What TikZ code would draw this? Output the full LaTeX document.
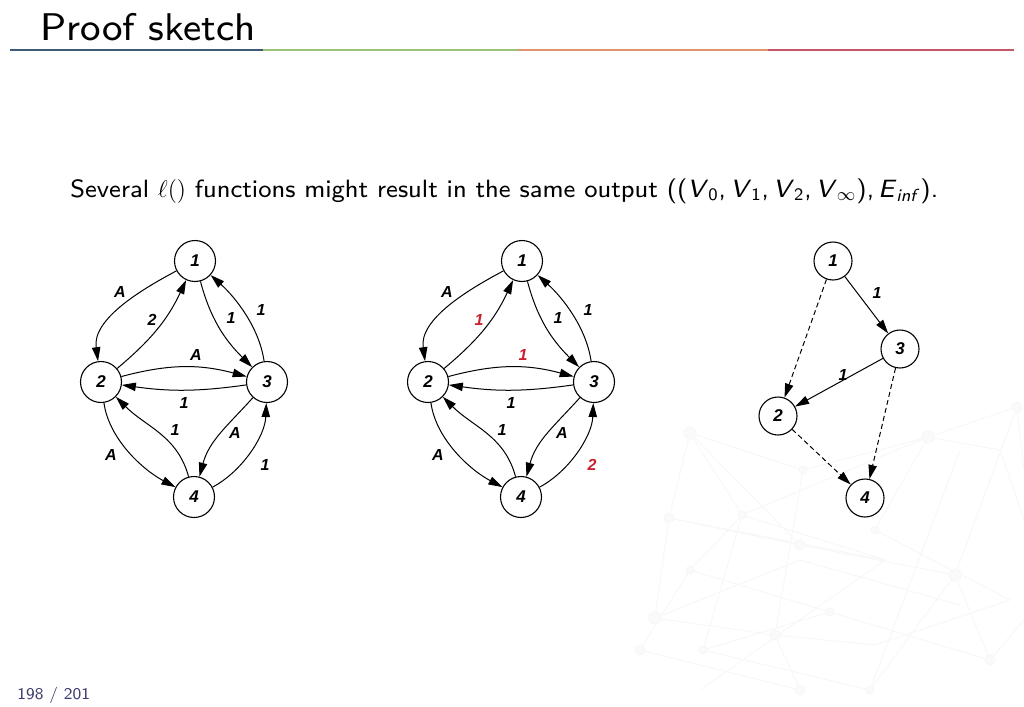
\documentclass[tikz,border=0pt]{standalone}
\usepackage{fontspec}
\setsansfont{lmsans8-regular.otf}[ItalicFont=lmsans8-oblique.otf]
\newfontfamily\figfont{Liberation Sans}
\usetikzlibrary{arrows.meta}

\definecolor{barblue}{HTML}{3B5B78}
\definecolor{bargreen}{HTML}{9CC27A}
\definecolor{barorange}{HTML}{E0956A}
\definecolor{barred}{HTML}{C4566A}
\definecolor{labred}{HTML}{C8202C}
\definecolor{pagenum}{HTML}{3C3C6E}

\tikzset{
  vertex/.style={circle, draw, line width=0.55pt, minimum size=20.5pt, inner sep=0pt,
                 font=\figfont\bfseries\itshape\fontsize{8.5}{9}\selectfont},
  small vertex/.style={vertex, minimum size=19pt},
  arc/.style={-{Triangle[length=7pt,width=4.2pt]}, line width=0.5pt},
  dashed arc/.style={arc, dash pattern=on 2.5pt off 1.6pt},
  weight/.style={inner sep=0pt, font=\figfont\bfseries\itshape\fontsize{8}{9}\selectfont},
  net/.style={gray!6, line width=0.5pt},
}

% one labelled graph: prefix, x of node 1, labels of 2->1, 2->3 and 4->3
\newcommand{\lmgraph}[5]{%
\begin{scope}[shift={(#2,261)}]
\node[vertex] (#1-1) at (0,0)     {1};
\node[vertex] (#1-2) at (-94,121) {2};
\node[vertex] (#1-3) at (72,121)  {3};
\node[vertex] (#1-4) at (-1,236)  {4};

\draw[arc] (#1-1) to[out=208,in=98,looseness=0.9]   (#1-2);
\draw[arc] (#1-2) to[out=40,in=245]                 (#1-1);
\draw[arc] (#1-1) to[out=285,in=135]                (#1-3);
\draw[arc] (#1-3) to[out=98,in=318,looseness=0.85]  (#1-1);
\draw[arc] (#1-2) to[out=15,in=165]                 (#1-3);
\draw[arc] (#1-3) to[out=188,in=352]                (#1-2);
\draw[arc] (#1-2) to[out=278,in=152,looseness=0.85] (#1-4);
\draw[arc] (#1-4) to[out=105,in=315]                (#1-2);
\draw[arc] (#1-3) to[out=228,in=75]                 (#1-4);
\draw[arc] (#1-4) to[out=28,in=268,looseness=0.85]  (#1-3);

\node[weight] (#1-w12) at (-75,31)  {A};
\node[weight] (#1-w21) at (-43,59)  {#3};
\node[weight] (#1-w13) at (36,57)   {1};
\node[weight] (#1-w31) at (66,49)   {1};
\node[weight] (#1-w23) at (1,94)    {#4};
\node[weight] (#1-w32) at (-11,142) {1};
\node[weight] (#1-w42) at (-20,169) {1};
\node[weight] (#1-w34) at (40,172)  {A};
\node[weight] (#1-w24) at (-84,194) {A};
\node[weight] (#1-w43) at (70,204)  {#5};
\end{scope}}

\begin{document}
\begin{tikzpicture}[x=0.5pt, y=-0.5pt]
\useasboundingbox (0,0) rectangle (1024,707);

% background network
\foreach \xa/\ya/\xb/\yb in {690/433/803/470, 690/433/669/518, 690/433/742/515, 803/470/928/437,
  928/437/1017/407, 928/437/875/530, 928/437/1000/450, 669/518/800/545, 742/515/885/560,
  800/545/955/575, 875/530/1010/600, 690/570/830/612, 690/570/742/515, 800/560/960/605,
  655/618/775/635, 775/635/875/645, 830/612/990/660, 640/650/800/690, 703/650/870/690,
  875/645/1010/600, 955/575/990/660, 885/560/700/690, 742/515/703/650, 960/450/870/690,
  669/518/655/618, 803/470/775/635, 1017/407/955/575, 1000/450/1024/520, 690/433/800/545,
  928/437/742/515, 669/518/885/560, 655/618/800/560, 703/650/830/612, 990/660/1024/620,
  640/650/690/570, 775/635/800/690, 870/690/955/575, 1017/407/1024/470}
  \draw[net] (\xa,\ya) -- (\xb,\yb);
\foreach \xa/\ya/\r in {690/433/6, 803/470/4, 928/437/6, 1017/407/5, 669/518/5, 742/515/4,
  800/545/5, 875/530/4, 690/570/4, 955/575/6, 655/618/6, 775/635/5, 830/612/4, 990/660/5,
  640/650/5, 703/650/4, 800/690/5, 870/690/4}
  \draw[net, fill=gray!4] (\xa,\ya) circle[radius=\r];

% title and bar
\node[anchor=base west, inner sep=0pt, font=\sffamily\fontsize{19.3}{22}\selectfont] (title) at (40,40) {Proof sketch};
\draw[barblue, line width=1pt]   (10,50)  -- (263,50);
\draw[bargreen, line width=1pt]  (263,50) -- (518,50);
\draw[barorange, line width=1pt] (518,50) -- (768,50);
\draw[barred, line width=1pt]    (768,50) -- (1014,50);

\node[anchor=base west, inner sep=0pt, font=\sffamily\fontsize{12.5}{15}\selectfont] (claim) at (70,197)
  {Several $\ell()$ functions might result in the same output ((\textit{V}\textsubscript{0},\,\textit{V}\textsubscript{1},\,\textit{V}\textsubscript{2},\,\textit{V}\textsubscript{$\infty$}),\,\textit{E}\textsubscript{\textit{inf}}).};

% the two labellings
\lmgraph{a}{195}{2}{A}{1}
\lmgraph{b}{522}{\textcolor{labred}{1}}{\textcolor{labred}{1}}{\textcolor{labred}{2}}

% the output
\node[small vertex] (c-1) at (833,261) {1};
\node[small vertex] (c-3) at (900,349) {3};
\node[small vertex] (c-2) at (778,416) {2};
\node[small vertex] (c-4) at (865,498) {4};
\draw[arc] (c-1) -- (c-3);
\draw[arc] (c-3) -- (c-2);
\draw[dashed arc] (c-1) -- (c-2);
\draw[dashed arc] (c-3) -- (c-4);
\draw[dashed arc] (c-2) -- (c-4);
\node[weight] (c-w13) at (877,293) {1};
\node[weight] (c-w32) at (843,375) {1};

\node[anchor=base west, inner sep=0pt, text=pagenum, font=\sffamily\fontsize{8.2}{9}\selectfont] (page) at (17,699) {198 / 201};
\end{tikzpicture}
\end{document}
